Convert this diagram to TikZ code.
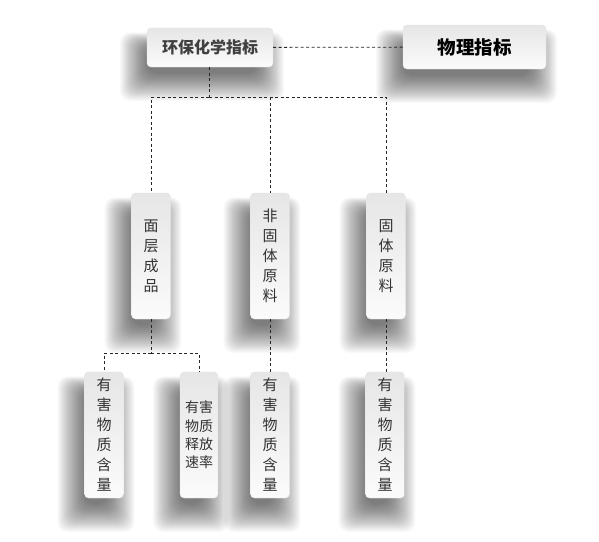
\documentclass[tikz,border=0pt]{standalone}
\usepackage{fontspec}
\setmainfont{Noto Sans CJK SC}
\usetikzlibrary{calc}
\pgfdeclarelayer{bglayer}
\pgfdeclarelayer{shadowlayer}
\pgfsetlayers{bglayer,shadowlayer,main}
\definecolor{txt}{HTML}{333333}
\definecolor{boxtop}{HTML}{E6E6E6}
\definecolor{boxbot}{HTML}{FBFBFB}
\tikzset{
  card/.style={rounded corners=4pt, draw=gray!20, line width=0.4pt,
    top color=boxtop, bottom color=boxbot, text=txt, align=center, inner sep=0pt},
  topcard/.style={card, minimum width=126pt, minimum height=39pt},
  phycard/.style={card, minimum width=143pt, minimum height=44pt, text=black},
  vcard/.style={card, minimum width=39pt, minimum height=126pt,
    font=\fontsize{15pt}{20pt}\selectfont},
  vcardtwo/.style={card, minimum width=38pt, minimum height=126pt,
    font=\fontsize{14pt}{18.3pt}\selectfont},
  conn/.style={draw=black!85, line width=0.8pt, dash pattern=on 3pt off 2.5pt},
  shadowlayerfill/.style={fill=black, opacity=0.018, rounded corners=10pt}
}
\begin{document}
\begin{tikzpicture}[x=1pt,y=1pt]
\useasboundingbox (0,0) rectangle (599,-541);
\begin{pgfonlayer}{bglayer}
\fill[white] (0,0) rectangle (599,-541);
\end{pgfonlayer}
% top row
\node[topcard, font=\fontsize{16pt}{18pt}\selectfont\bfseries, text=black!75] (hb) at (210,-47.5) {环保化学指标};
\node[phycard, font=\fontsize{18.5pt}{20pt}\selectfont\bfseries] (wl) at (474.5,-47) {物理指标};
% middle row
\node[vcard] (m1) at (151,-256) {面\\层\\成\\品};
\node[vcard] (m2) at (270,-256) {非\\固\\体\\原\\料};
\node[vcard] (m3) at (386,-256) {固\\体\\原\\料};
% bottom row
\node[vcard] (b1) at (104,-435) {有\\害\\物\\质\\含\\量};
\node[vcardtwo] (b2) at (199,-435) {有害\\物质\\释放\\速率};
\node[vcard] (b3) at (270,-435) {有\\害\\物\\质\\含\\量};
\node[vcard] (b4) at (385,-435) {有\\害\\物\\质\\含\\量};
% soft shadows
\begin{pgfonlayer}{shadowlayer}
\foreach \n in {hb,wl,m1,m2,m3,b1,b2,b3,b4}{
  \foreach \i in {0,...,31}{
    \pgfmathsetmacro{\e}{-9+0.9*\i}
    \pgfmathsetmacro{\t}{-15+0.55*\e}
    \fill[shadowlayerfill] ($(\n.south west)+(-8-\e,-15-\e)$) rectangle ($(\n.north east)+(-8+\e,\t)$);
  }
}
\end{pgfonlayer}
% connectors
\draw[conn] (hb) -- (wl);
\coordinate (j1) at (209,-97);
\draw[conn] (hb.south -| j1) -- (j1);
\draw[conn] (j1) -| (m1.north);
\draw[conn] (j1) -| (m3.north);
\draw[conn] (m2.north |- j1) -- (m2.north);
\coordinate (j2) at (151,-353);
\draw[conn] (m1.south) -- (j2);
\draw[conn] (j2) -| (b1.north);
\draw[conn] (j2) -| (b2.north);
\draw[conn] (m2.south) -- (b3.north);
\draw[conn] (m3.south) -- (m3.south |- b4.north);
\end{tikzpicture}
\end{document}
